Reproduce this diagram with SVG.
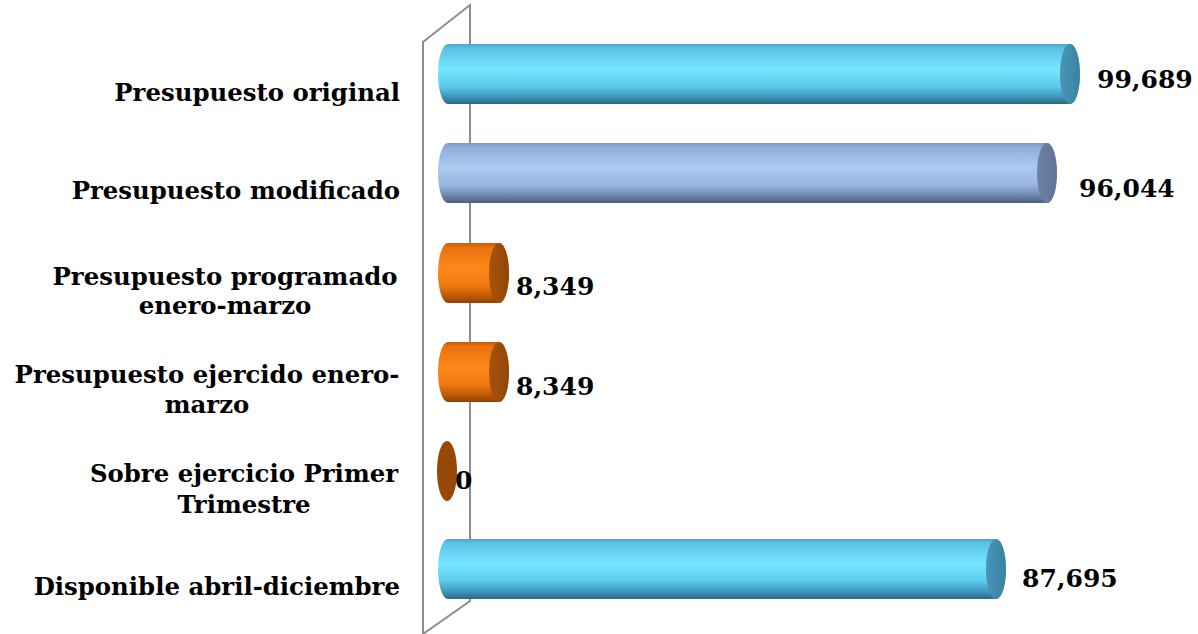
<svg xmlns="http://www.w3.org/2000/svg" width="1198" height="634" viewBox="0 0 1198 634">
  <defs>
    <linearGradient id="gCyan" x1="0" y1="0" x2="0" y2="1">
      <stop offset="0" stop-color="#4aa9cc"/>
      <stop offset="0.08" stop-color="#5cc3e6"/>
      <stop offset="0.42" stop-color="#76e6ff"/>
      <stop offset="0.7" stop-color="#5ccbee"/>
      <stop offset="0.88" stop-color="#3f95b8"/>
      <stop offset="1" stop-color="#2a6684"/>
    </linearGradient>
    <linearGradient id="gBlue" x1="0" y1="0" x2="0" y2="1">
      <stop offset="0" stop-color="#7f98c0"/>
      <stop offset="0.08" stop-color="#93b0da"/>
      <stop offset="0.42" stop-color="#aacaf2"/>
      <stop offset="0.7" stop-color="#98b6e0"/>
      <stop offset="0.88" stop-color="#6d85aa"/>
      <stop offset="1" stop-color="#4e6080"/>
    </linearGradient>
    <linearGradient id="gOrange" x1="0" y1="0" x2="0" y2="1">
      <stop offset="0" stop-color="#c85c06"/>
      <stop offset="0.08" stop-color="#ea7210"/>
      <stop offset="0.42" stop-color="#ff881a"/>
      <stop offset="0.7" stop-color="#f07a12"/>
      <stop offset="0.88" stop-color="#c05a04"/>
      <stop offset="1" stop-color="#8e4200"/>
    </linearGradient>
    <linearGradient id="gCapCyan" x1="0" y1="0" x2="1" y2="0">
      <stop offset="0" stop-color="#4a96b8"/>
      <stop offset="1" stop-color="#3a82a4"/>
    </linearGradient>
    <linearGradient id="gCapBlue" x1="0" y1="0" x2="1" y2="0">
      <stop offset="0" stop-color="#6e82a4"/>
      <stop offset="1" stop-color="#617494"/>
    </linearGradient>
    <linearGradient id="gCapOrange" x1="0" y1="0" x2="1" y2="0">
      <stop offset="0" stop-color="#a8530c"/>
      <stop offset="1" stop-color="#924506"/>
    </linearGradient>
  </defs>
  <style>
    .wall { fill: none; stroke: #8e8e8e; stroke-width: 2; }
    .cat { font-family: "DejaVu Serif", "Liberation Serif", serif; font-weight: bold; font-size: 24.4px; fill: #000; }
    .val { font-family: "DejaVu Serif", "Liberation Serif", serif; font-weight: bold; font-size: 25px; fill: #000; }
    .end { text-anchor: end; }
    .mid { text-anchor: middle; }
  </style>
  <rect width="1198" height="634" fill="#ffffff"/>

  <g id="wall">
    <path class="wall" d="M423,634 L423,42 L470,5 L470,601 Z"/>
  </g>

  <g id="bar-presupuesto-original">
    <path d="M448,44 L1070,44 A10,30 0 0 1 1070,104 L448,104 A10,30 0 0 1 448,44 Z" fill="url(#gCyan)"/>
    <ellipse cx="1070" cy="74" rx="10" ry="30" fill="url(#gCapCyan)"/>
    <text class="cat end" x="400" y="101">Presupuesto original</text>
    <text class="val" x="1097" y="88">99,689</text>
  </g>

  <g id="bar-presupuesto-modificado">
    <path d="M448,143 L1047,143 A10,30 0 0 1 1047,203 L448,203 A10,30 0 0 1 448,143 Z" fill="url(#gBlue)"/>
    <ellipse cx="1047" cy="173" rx="10" ry="30" fill="url(#gCapBlue)"/>
    <text class="cat end" x="400" y="199">Presupuesto modificado</text>
    <text class="val" x="1079" y="197">96,044</text>
  </g>

  <g id="bar-programado">
    <path d="M448,243 L499,243 A10,30 0 0 1 499,303 L448,303 A10,30 0 0 1 448,243 Z" fill="url(#gOrange)"/>
    <ellipse cx="499" cy="273" rx="10" ry="30" fill="url(#gCapOrange)"/>
    <text class="cat mid" x="225" y="285">Presupuesto programado</text>
    <text class="cat mid" x="225" y="314">enero-marzo</text>
    <text class="val" x="516" y="295">8,349</text>
  </g>

  <g id="bar-ejercido">
    <path d="M448,342 L499,342 A10,30 0 0 1 499,402 L448,402 A10,30 0 0 1 448,342 Z" fill="url(#gOrange)"/>
    <ellipse cx="499" cy="372" rx="10" ry="30" fill="url(#gCapOrange)"/>
    <text class="cat mid" x="207" y="383">Presupuesto ejercido enero-</text>
    <text class="cat mid" x="207" y="413">marzo</text>
    <text class="val" x="516" y="395">8,349</text>
  </g>

  <g id="bar-sobre-ejercicio">
    <ellipse cx="447" cy="471" rx="10" ry="30" fill="#954808"/>
    <text class="cat mid" x="244" y="482">Sobre ejercicio Primer</text>
    <text class="cat mid" x="244" y="513">Trimestre</text>
    <text class="val" x="455" y="489">0</text>
  </g>

  <g id="bar-disponible">
    <path d="M448,539 L996,539 A10,30 0 0 1 996,599 L448,599 A10,30 0 0 1 448,539 Z" fill="url(#gCyan)"/>
    <ellipse cx="996" cy="569" rx="10" ry="30" fill="url(#gCapCyan)"/>
    <text class="cat end" x="400" y="595">Disponible abril-diciembre</text>
    <text class="val" x="1022" y="587">87,695</text>
  </g>

  <g id="connectors"/>
</svg>
